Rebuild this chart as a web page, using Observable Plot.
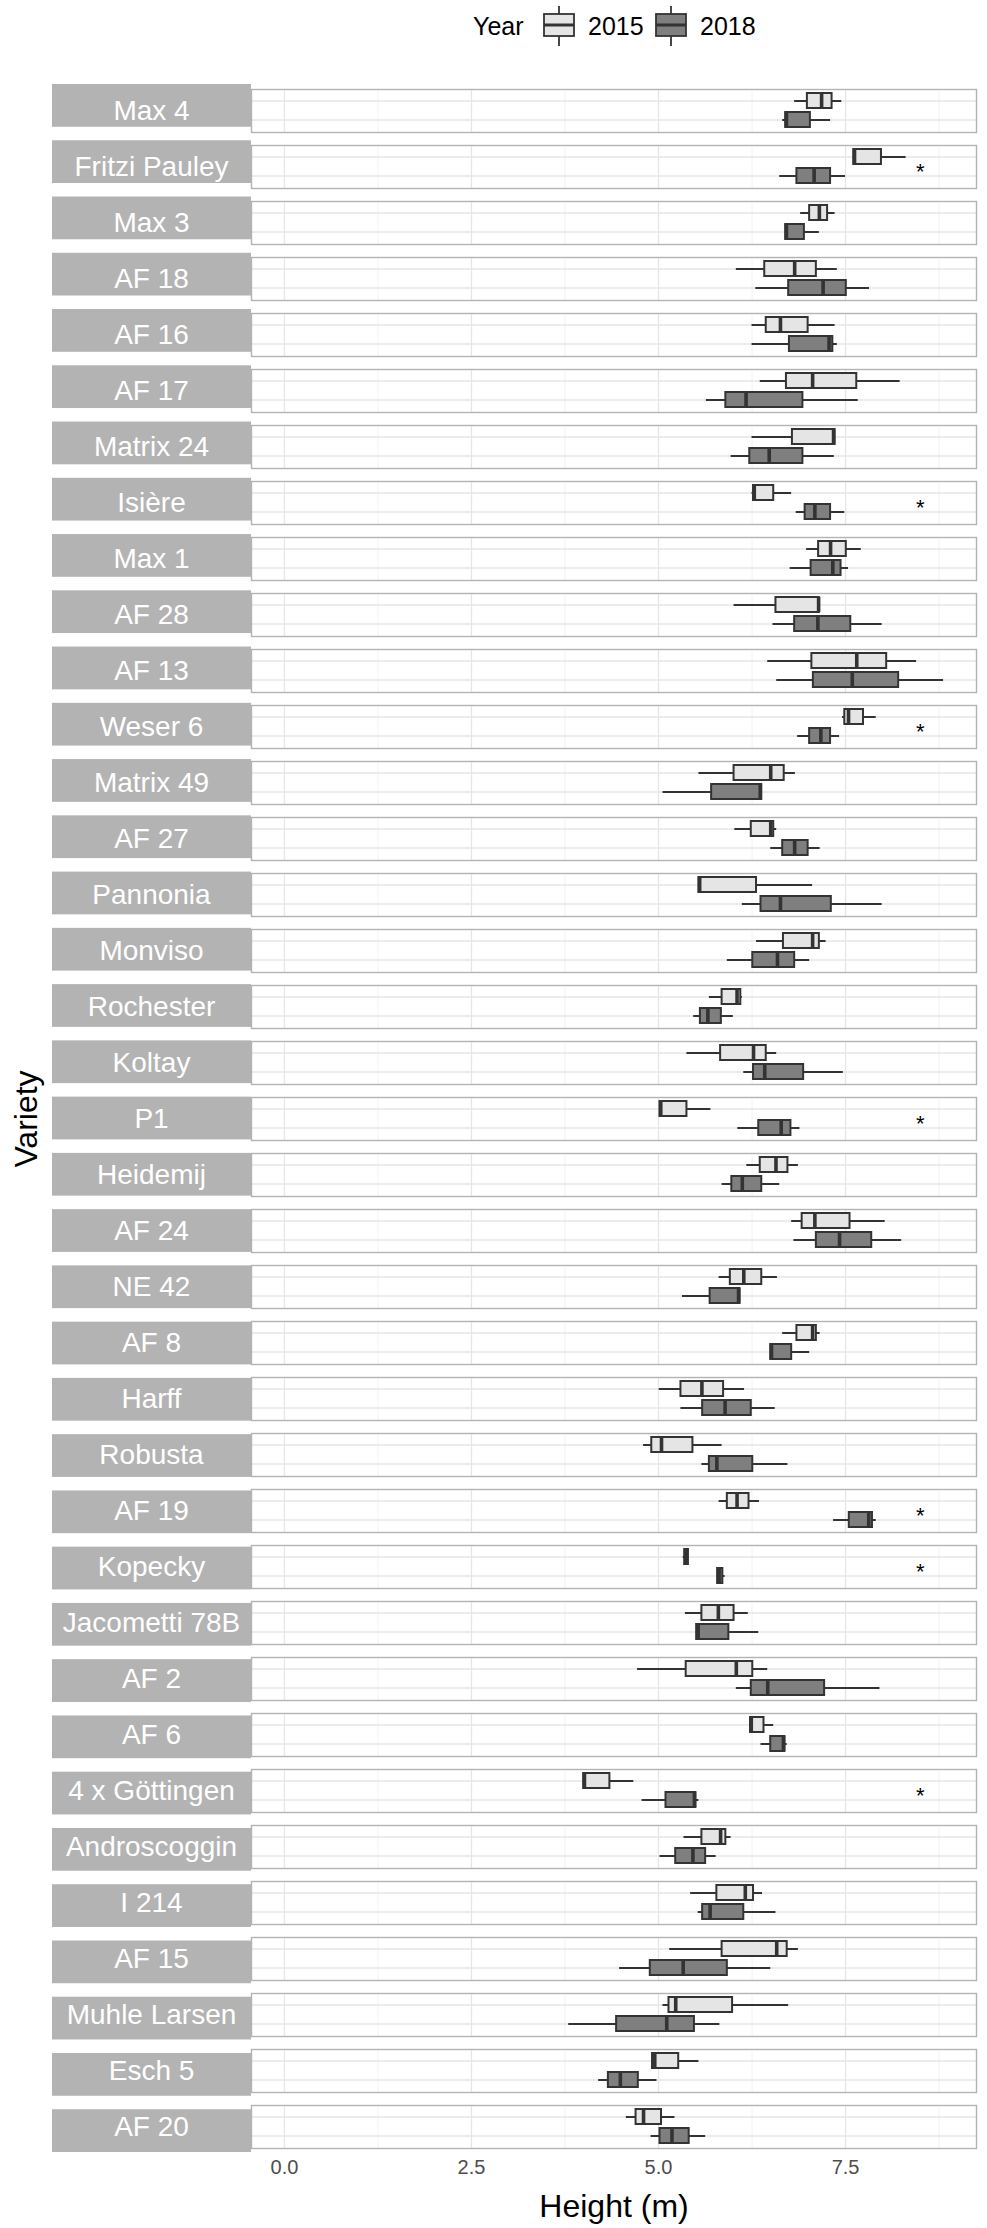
<!DOCTYPE html>
<html><head><meta charset="utf-8">
<script src="https://cdn.jsdelivr.net/npm/d3@7"></script>
<script src="https://cdn.jsdelivr.net/npm/@observablehq/plot@0.6"></script>
<style>
body{margin:0;background:#fff;font-family:"Liberation Sans",Arial,sans-serif;}
#chart{width:987px;}
#legend{display:block;}
</style></head><body><div id="chart"></div>
<script>
const varieties = ["Max 4","Fritzi Pauley","Max 3","AF 18","AF 16","AF 17","Matrix 24","Isière","Max 1","AF 28","AF 13","Weser 6","Matrix 49","AF 27","Pannonia","Monviso","Rochester","Koltay","P1","Heidemij","AF 24","NE 42","AF 8","Harff","Robusta","AF 19","Kopecky","Jacometti 78B","AF 2","AF 6","4 x Göttingen","Androscoggin","I 214","AF 15","Muhle Larsen","Esch 5","AF 20"];
const years = ["2015","2018"];

// 2015 box statistics (lower whisker, Q1, median, Q3, upper whisker)
const low2015 = [6.82,7.61,6.90,6.04,6.25,6.36,6.25,6.25,6.98,6.01,6.46,7.46,5.54,6.02,5.54,6.31,5.68,5.38,5.02,6.18,6.78,5.81,6.66,5.01,4.80,5.81,5.33,5.36,4.72,6.23,4.00,5.34,5.43,5.15,5.06,4.91,4.57];
const q1_2015 = [6.99,7.61,7.02,6.42,6.44,6.71,6.79,6.27,7.14,6.57,7.05,7.49,6.01,6.24,5.54,6.67,5.85,5.83,5.02,6.36,6.92,5.96,6.85,5.30,4.91,5.92,5.35,5.58,5.37,6.23,4.00,5.58,5.78,5.85,5.14,4.92,4.70];
const med2015 = [7.18,7.62,7.15,6.82,6.63,7.06,7.34,6.28,7.30,7.14,7.65,7.54,6.50,6.50,5.55,7.06,6.05,6.27,5.03,6.57,7.09,6.14,7.06,5.58,5.04,6.05,5.37,5.80,6.04,6.24,4.01,5.83,6.16,6.58,5.23,4.95,4.80];
const q3_2015 = [7.32,7.98,7.26,7.11,7.00,7.65,7.36,6.54,7.51,7.15,8.05,7.74,6.68,6.54,6.31,7.15,6.10,6.44,5.38,6.73,7.56,6.38,7.11,5.87,5.46,6.21,5.40,6.01,6.26,6.41,4.35,5.90,6.27,6.72,5.99,5.27,5.04];
const high2015 = [7.45,8.31,7.36,7.39,7.36,8.23,7.36,6.78,7.71,7.15,8.45,7.91,6.83,6.58,7.06,7.24,6.12,6.58,5.70,6.87,8.03,6.59,7.16,6.15,5.85,6.35,5.40,6.20,6.46,6.54,4.67,5.97,6.39,6.87,6.74,5.54,5.22];

// 2018 box statistics
const low2018 = [6.66,6.62,6.70,6.30,6.25,5.64,5.97,6.84,6.76,6.53,6.58,6.86,5.06,6.50,6.12,5.92,5.47,6.14,6.06,5.85,6.81,5.32,6.50,5.30,5.58,7.34,5.79,5.51,6.04,6.37,4.78,5.02,5.53,4.48,3.80,4.20,4.90];
const q1_2018 = [6.70,6.85,6.70,6.74,6.75,5.90,6.22,6.96,7.04,6.82,7.07,7.02,5.71,6.66,6.37,6.26,5.56,6.27,6.34,5.98,7.11,5.69,6.50,5.59,5.68,7.55,5.79,5.51,6.24,6.50,5.10,5.23,5.59,4.89,4.44,4.33,5.02];
const med2018 = [6.71,7.08,6.71,7.20,7.28,6.17,6.48,7.09,7.33,7.13,7.59,7.17,6.36,6.82,6.63,6.59,5.66,6.42,6.64,6.12,7.42,6.07,6.51,5.89,5.78,7.81,5.81,5.53,6.46,6.67,5.48,5.46,5.69,5.33,5.11,4.49,5.18];
const q3_2018 = [7.03,7.30,6.95,7.51,7.33,6.93,6.93,7.30,7.44,7.57,8.21,7.30,6.38,7.00,7.31,6.82,5.84,6.94,6.77,6.38,7.85,6.09,6.78,6.24,6.26,7.86,5.86,5.94,7.22,6.69,5.50,5.63,6.14,5.92,5.48,4.73,5.41];
const high2018 = [7.30,7.50,7.15,7.82,7.39,7.67,7.35,7.49,7.54,7.99,8.81,7.42,6.38,7.16,7.99,7.02,6.00,7.47,6.89,6.62,8.25,6.09,7.02,6.56,6.73,7.91,5.89,6.34,7.96,6.72,5.54,5.77,6.57,6.50,5.82,4.98,5.63];

// varieties with a significant year difference
const significant = ["Fritzi Pauley","Isière","Weser 6","P1","AF 19","Kopecky","4 x Göttingen"];
const starPosition = 8.5;

const majorTicks = [0, 2.5, 5, 7.5];
const minorTicks = [1.25, 3.75, 6.25, 8.75];
const fillColors = ["#E5E5E5", "#7F7F7F"];

const stats = {
  "2015": [low2015, q1_2015, med2015, q3_2015, high2015],
  "2018": [low2018, q1_2018, med2018, q3_2018, high2018]
};
const data = [];
varieties.forEach((v, i) => {
  for (const y of years) {
    const s = stats[y];
    data.push({variety: v, year: y, lo: s[0][i], q1: s[1][i], med: s[2][i], q3: s[3][i], hi: s[4][i]});
  }
});

const xMin = Math.min(0, d3.min(data, d => d.lo));
const xMax = d3.max(data, d => d.hi);
const xPad = 0.05 * (xMax - xMin);

const FONT = "Liberation Sans, Arial, sans-serif";
const chart = document.getElementById("chart");

// ---- legend (above the SVG) ----
const leg = d3.create("svg").attr("id", "legend").attr("width", 987).attr("height", 52)
  .style("font-family", FONT);
leg.append("text").attr("x", 473).attr("y", 35).attr("font-size", 25).attr("fill", "#000").text("Year");
const keyX = [543, 655];
years.forEach((y, i) => {
  const x0 = keyX[i];
  const g = leg.append("g");
  g.append("line").attr("x1", x0 + 16).attr("x2", x0 + 16).attr("y1", 6).attr("y2", 46)
    .attr("stroke", "#333").attr("stroke-width", 1.8);
  g.append("rect").attr("x", x0 + 1).attr("y", 14).attr("width", 30).attr("height", 22)
    .attr("fill", fillColors[i]).attr("stroke", "#333").attr("stroke-width", 1.8);
  g.append("line").attr("x1", x0 + 1).attr("x2", x0 + 31).attr("y1", 25).attr("y2", 25)
    .attr("stroke", "#333").attr("stroke-width", 3);
  leg.append("text").attr("x", x0 + 45).attr("y", 35).attr("font-size", 25).attr("fill", "#000").text(y);
});
chart.appendChild(leg.node());

// ---- main plot ----
const plot = Plot.plot({
  width: 987,
  height: 2176,
  marginTop: 32,
  marginBottom: 76,
  marginLeft: 251,
  marginRight: 11,
  style: {fontFamily: FONT, fontSize: "20px", background: "white", color: "#000"},
  x: {domain: [xMin - xPad, xMax + xPad], label: null},
  y: {domain: years, paddingInner: 0.2, paddingOuter: 0.2, axis: null},
  fy: {domain: varieties, paddingInner: 0.24, paddingOuter: 0, axis: null, label: null},
  color: {domain: years, range: fillColors},
  marks: [
    Plot.gridX({ticks: minorTicks, stroke: "#F2F2F2", strokeOpacity: 1, strokeWidth: 1}),
    Plot.gridX({ticks: majorTicks, stroke: "#E6E6E6", strokeOpacity: 1, strokeWidth: 1.3}),
    Plot.gridY({stroke: "#E6E6E6", strokeOpacity: 1, strokeWidth: 1.3}),
    Plot.frame({stroke: "#B3B3B3", strokeWidth: 1.4}),
    Plot.ruleY(data, {y: "year", fy: "variety", x1: "lo", x2: "hi", stroke: "#333333", strokeWidth: 2}),
    Plot.barX(data, {y: "year", fy: "variety", x1: "q1", x2: "q3", fill: "year", stroke: "#333333", strokeWidth: 2}),
    Plot.tickX(data, {x: "med", y: "year", fy: "variety", stroke: "#333333", strokeWidth: 3.6}),
    Plot.text(significant, {fy: d => d, x: () => starPosition, text: () => "*", fontSize: 22, dy: 5, fill: "#000"}),
    Plot.text(varieties, {fy: d => d, text: d => d, frameAnchor: "left", textAnchor: "middle", dx: -100, fill: "white", fontSize: 28}),
    Plot.axisX({ticks: majorTicks, tickFormat: d3.format(".1f"), tickSize: 0, tickPadding: 11, fill: "#4D4D4D", fontSize: 20, label: null}),
    Plot.axisX({ticks: [], tickSize: 0, label: "Height (m)", labelAnchor: "center", labelOffset: 68, labelArrow: "none", fontSize: 32, fill: "#000"}),
    Plot.axisFy({anchor: "left", ticks: [], tickSize: 0, label: "Variety", labelAnchor: "center", labelOffset: 237, labelArrow: "none", fontSize: 32, fill: "#000"})
  ]
});

// strip backgrounds behind the facet labels, positioned from Plot's fy scale
const fyS = plot.scale("fy");
const xS = plot.scale("x");
const band = d3.scaleBand().domain(fyS.domain).range(fyS.range)
  .paddingInner(fyS.paddingInner).paddingOuter(fyS.paddingOuter).align(fyS.align ?? 0.5);
const svg = d3.select(plot.tagName === "svg" ? plot : plot.querySelector("svg"));
const strips = svg.insert("g", "g").attr("aria-label", "strips");
strips.selectAll("rect").data(varieties).join("rect")
  .attr("x", 52).attr("width", xS.range[0] - 52)
  .attr("y", d => band(d)).attr("height", band.bandwidth())
  .attr("fill", "#B3B3B3");
chart.appendChild(plot);
</script></body></html>
